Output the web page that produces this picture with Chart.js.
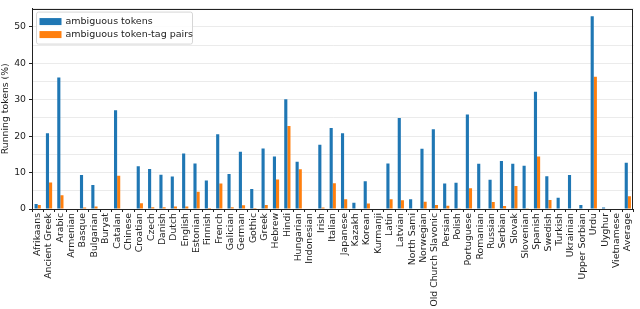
<!DOCTYPE html>
<html>
<head>
<meta charset="utf-8">
<script src="https://cdn.jsdelivr.net/npm/chart.js@4"></script>
<style>
  html, body { margin: 0; padding: 0; background: #fff; }
  #wrap { width: 640px; height: 309px; }
</style>
</head>
<body>
<div id="wrap"><canvas id="myChart"></canvas></div>
<script>
const idiomas = ["Afrikaans", "Ancient Greek", "Arabic", "Armenian", "Basque", "Bulgarian", "Buryat", "Catalan", "Chinese", "Croatian", "Czech", "Danish", "Dutch", "English", "Estonian", "Finnish", "French", "Galician", "German", "Gothic", "Greek", "Hebrew", "Hindi", "Hungarian", "Indonesian", "Irish", "Italian", "Japanese", "Kazakh", "Korean", "Kurmanji", "Latin", "Latvian", "North Sami", "Norwegian", "Old Church Slavonic", "Persian", "Polish", "Portuguese", "Romanian", "Russian", "Serbian", "Slovak", "Slovenian", "Spanish", "Swedish", "Turkish", "Ukrainian", "Upper Sorbian", "Urdu", "Uyghur", "Vietnamese", "Average"];

const ambiguousTokens = [1.4, 20.8, 36.1, 0, 9.3, 6.6, 0, 27.1, 0, 11.7, 11.0, 9.4, 8.9, 15.2, 12.5, 7.8, 20.5, 9.6, 15.7, 5.5, 16.6, 14.4, 30.1, 13.0, 0, 17.6, 22.2, 20.8, 1.7, 7.6, 0, 12.5, 25.0, 2.7, 16.5, 21.9, 7.0, 7.2, 25.9, 12.4, 8.0, 13.2, 12.4, 11.9, 32.2, 9.0, 3.1, 9.3, 1.1, 52.9, 0.4, 0, 12.7];

const ambiguousPairs = [1.1, 7.3, 3.8, 0, 0.4, 0.7, 0, 9.1, 0, 1.6, 0.5, 0.5, 0.7, 0.7, 4.7, 0.3, 7.0, 0.5, 1.0, 0.3, 1.1, 8.1, 22.8, 10.9, 0, 0.4, 7.1, 2.7, 0, 1.5, 0, 2.7, 2.4, 0, 2.0, 1.1, 0.9, 0.2, 5.7, 0, 1.9, 0.8, 6.3, 0.2, 14.4, 2.5, 0, 0, 0, 36.3, 0, 0, 3.5];

const yTickLabels = [0, 10, 20, 30, 40, 50];

const fuente = "'DejaVu Sans', sans-serif";

// marco alrededor del area y leyenda dentro del grafico
const marcoYLeyenda = {
  id: "marcoYLeyenda",
  afterDraw(chart) {
    const ctx = chart.ctx;
    const area = chart.chartArea;
    ctx.save();
    ctx.strokeStyle = "#222";
    ctx.lineWidth = 1;
    ctx.strokeRect(Math.round(area.left) + 0.5, Math.round(area.top) + 0.5,
      Math.round(area.right - area.left) - 1, Math.round(area.bottom - area.top));

    const x0 = area.left + 4.5, y0 = area.top + 3.5;
    ctx.fillStyle = "rgba(255,255,255,0.85)";
    ctx.strokeStyle = "#d6d6d6";
    ctx.beginPath();
    ctx.roundRect(x0, y0, 156, 32, 2);
    ctx.fill();
    ctx.stroke();

    ctx.font = "9.5px " + fuente;
    ctx.textBaseline = "middle";
    chart.data.datasets.forEach((ds, i) => {
      const cy = y0 + 9.5 + i * 13;
      ctx.fillStyle = ds.backgroundColor;
      ctx.fillRect(x0 + 3, cy - 3.5, 22, 7);
      ctx.fillStyle = "#222";
      ctx.fillText(ds.label, x0 + 29, cy);
    });
    ctx.restore();
  },
};

const config = {
  type: "bar",
  data: {
    labels: idiomas,
    datasets: [
      {
        label: "ambiguous tokens",
        data: ambiguousTokens,
        backgroundColor: "#1f77b4",
        categoryPercentage: 0.55,
        barPercentage: 1.0,
      },
      {
        label: "ambiguous token-tag pairs",
        data: ambiguousPairs,
        backgroundColor: "#ff7f0e",
        categoryPercentage: 0.55,
        barPercentage: 1.0,
      },
    ],
  },
  options: {
    responsive: true,
    maintainAspectRatio: false,
    animation: false,
    layout: { padding: { top: 1, right: 2, left: 0, bottom: 0 } },
    plugins: {
      legend: { display: false },
      tooltip: { enabled: false },
    },
    scales: {
      x: {
        offset: true,
        grid: {
          drawOnChartArea: false,
          drawTicks: true,
          tickLength: 3,
          color: "#222",
        },
        border: { color: "#222" },
        ticks: {
          autoSkip: false,
          minRotation: 90,
          maxRotation: 90,
          padding: 1,
          color: "#222",
          font: { family: fuente, size: 9.3 },
        },
        afterFit(scale) {
          scale.height = 100;
        },
      },
      y: {
        min: 0,
        max: 55,
        ticks: {
          stepSize: 5,
          padding: 3,
          color: "#222",
          font: { family: fuente, size: 9.3 },
          callback: (v) => (yTickLabels.includes(v) ? v : ""),
        },
        grid: {
          color: "#ebebeb",
          tickLength: 3,
          tickColor: (c) => (c.tick && yTickLabels.includes(c.tick.value) ? "#222" : "transparent"),
        },
        border: { color: "#222" },
        title: {
          display: true,
          text: "Running tokens (%)",
          color: "#222",
          font: { family: fuente, size: 9.3 },
          padding: { top: 0, bottom: 2 },
        },
        afterFit(scale) {
          scale.width = 32;
        },
      },
    },
  },
  plugins: [marcoYLeyenda],
};

const myChart = document.getElementById("myChart");
const grafico = new Chart(myChart, config);
</script>
</body>
</html>
